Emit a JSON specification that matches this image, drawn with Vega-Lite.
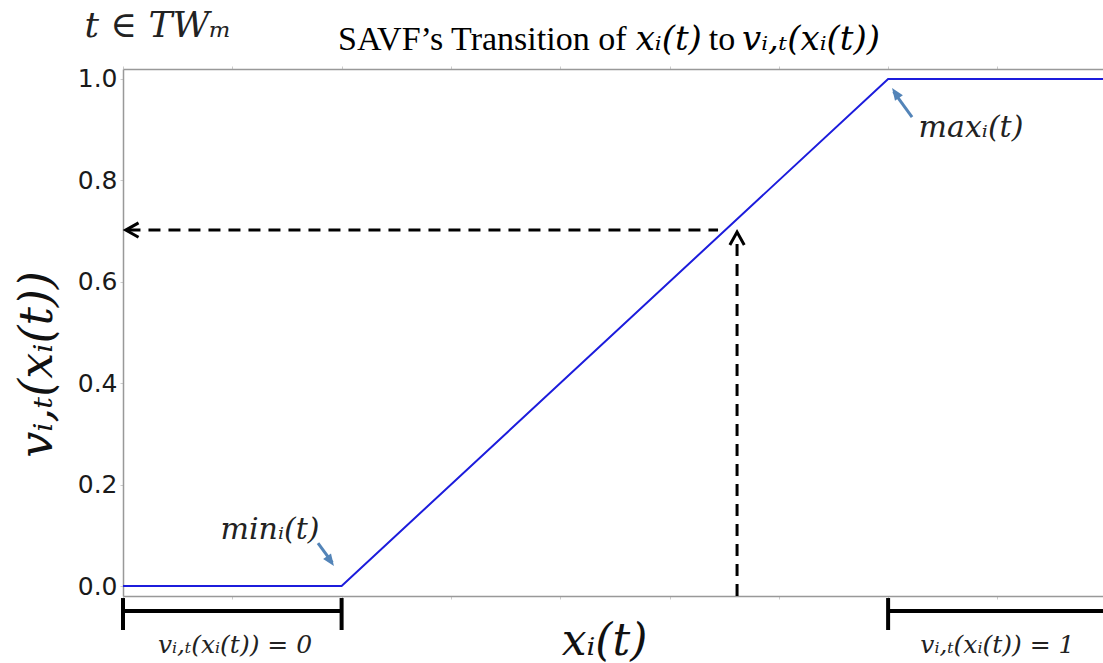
{
  "$schema": "https://vega.github.io/schema/vega-lite/v6.json",
  "width": 980,
  "height": 527,
  "autosize": "none",
  "padding": {"left": 123, "top": 69, "right": 0, "bottom": 67},
  "background": "white",
  "config": {"view": {"stroke": null}},
  "resolve": {"axis": {"x": "independent"}},
  "datasets": {
    "curve": [
      {"x": 0, "y": 0},
      {"x": 2, "y": 0},
      {"x": 7, "y": 1},
      {"x": 8.966, "y": 1}
    ],
    "hguide": [{"x": 0.05, "x2": 5.444, "y": 0.702}],
    "hhead": [{"x": 0.025, "y": 0.702}],
    "vguide": [{"x": 5.618, "y": -0.0197, "y2": 0.69}],
    "vhead": [{"x": 5.618, "y": 0.698}],
    "brackets": [
      {"x": 0, "x2": 2, "y": -0.0493, "y2": -0.0493},
      {"x": 7, "x2": 8.966, "y": -0.0493, "y2": -0.0493},
      {"x": 0, "x2": 0, "y": -0.0237, "y2": -0.0868},
      {"x": 2, "x2": 2, "y": -0.0237, "y2": -0.0868},
      {"x": 7, "x2": 7, "y": -0.0237, "y2": -0.0868}
    ],
    "pointers": [
      {"name": "min", "x": 1.784, "y": 0.0848, "x2": 1.915, "y2": 0.046},
      {"name": "max", "x": 7.219, "y": 0.925, "x2": 7.05, "y2": 0.975}
    ],
    "heads": [
      {"name": "min", "x": 1.93, "y": 0.0394},
      {"name": "max", "x": 7.036, "y": 0.982}
    ],
    "small": [
      {"x": 1.345, "y": 0.11, "text": "minᵢ(t)"},
      {"x": 7.758, "y": 0.903, "text": "maxᵢ(t)"}
    ],
    "bracketLabels": [
      {"x": 1.025, "y": -0.116, "text": "vᵢ,ₜ(xᵢ(t)) = 0"},
      {"x": 8.0, "y": -0.116, "text": "vᵢ,ₜ(xᵢ(t)) = 1"}
    ],
    "corner": [{"x": 0.32, "y": 1.1045, "text": "t ∈ TWₘ"}],
    "heading": [
      {"part": "roman", "x": 1.967, "y": 1.057, "text": "SAVF’s Transition of"},
      {"part": "math", "x": 4.69, "y": 1.057, "text": "xᵢ(t)"},
      {"part": "roman", "x": 5.36, "y": 1.057, "text": "to"},
      {"part": "math", "x": 5.663, "y": 1.057, "text": "vᵢ,ₜ(xᵢ(t))"}
    ]
  },
  "layer": [
    {
      "data": {"name": "curve"},
      "mark": {"type": "line", "color": "#1c1cdc", "strokeWidth": 2},
      "encoding": {
        "x": {
          "field": "x",
          "type": "quantitative",
          "scale": {"domain": [0, 8.966], "nice": false, "zero": false},
          "axis": {
            "orient": "bottom",
            "values": [0, 1, 2, 3, 4, 5, 6, 7, 8],
            "labels": false,
            "grid": false,
            "domainColor": "#999999",
            "domainWidth": 1.5,
            "tickColor": "#cccccc",
            "tickSize": 3,
            "title": "xᵢ(t)",
            "titleFont": "DejaVu Serif",
            "titleFontStyle": "italic",
            "titleFontWeight": "normal",
            "titleFontSize": 44,
            "titleColor": "#111111",
            "titleAlign": "center",
            "titleBaseline": "middle",
            "titleX": 481,
            "titleY": 45
          }
        },
        "y": {
          "field": "y",
          "type": "quantitative",
          "scale": {"domain": [-0.0197, 1.0197], "nice": false, "zero": false},
          "axis": {
            "orient": "left",
            "values": [0, 0.2, 0.4, 0.6, 0.8, 1.0],
            "format": ".1f",
            "grid": false,
            "labelFont": "DejaVu Sans",
            "labelFontSize": 25,
            "labelColor": "#1a1a1a",
            "labelPadding": 3,
            "domainColor": "#999999",
            "domainWidth": 1.5,
            "tickColor": "#cccccc",
            "tickSize": 3,
            "title": "vᵢ,ₜ(xᵢ(t))",
            "titleFont": "DejaVu Serif",
            "titleFontStyle": "italic",
            "titleFontWeight": "normal",
            "titleFontSize": 46,
            "titleColor": "#111111",
            "titleAngle": -90,
            "titleAlign": "center",
            "titleBaseline": "middle",
            "titleX": -86,
            "titleY": 295
          }
        }
      }
    },
    {
      "data": {"name": "curve"},
      "mark": {"type": "line", "strokeOpacity": 0},
      "encoding": {
        "x": {
          "field": "x",
          "type": "quantitative",
          "axis": {
            "orient": "top",
            "values": [0, 1, 2, 3, 4, 5, 6, 7, 8],
            "labels": false,
            "grid": false,
            "title": null,
            "domainColor": "#999999",
            "domainWidth": 1.5,
            "tickColor": "#cccccc",
            "tickSize": 3
          }
        },
        "y": {"field": "y", "type": "quantitative"}
      }
    },
    {
      "data": {"name": "hguide"},
      "mark": {"type": "rule", "color": "black", "strokeWidth": 3, "strokeDash": [12, 8]},
      "encoding": {
        "x": {"field": "x", "type": "quantitative", "axis": null},
        "x2": {"field": "x2"},
        "y": {"field": "y", "type": "quantitative"}
      }
    },
    {
      "data": {"name": "hhead"},
      "mark": {"type": "point", "shape": "M1.6,-0.9L0,0L1.6,0.9", "size": 256, "filled": false, "stroke": "black", "strokeWidth": 3, "opacity": 1},
      "encoding": {
        "x": {"field": "x", "type": "quantitative", "axis": null},
        "y": {"field": "y", "type": "quantitative"}
      }
    },
    {
      "data": {"name": "vguide"},
      "mark": {"type": "rule", "color": "black", "strokeWidth": 3, "strokeDash": [12, 8]},
      "encoding": {
        "x": {"field": "x", "type": "quantitative", "axis": null},
        "y": {"field": "y", "type": "quantitative"},
        "y2": {"field": "y2"}
      }
    },
    {
      "data": {"name": "vhead"},
      "mark": {"type": "point", "shape": "M-0.9,1.6L0,0L0.9,1.6", "size": 256, "filled": false, "stroke": "black", "strokeWidth": 3, "opacity": 1},
      "encoding": {
        "x": {"field": "x", "type": "quantitative", "axis": null},
        "y": {"field": "y", "type": "quantitative"}
      }
    },
    {
      "data": {"name": "brackets"},
      "mark": {"type": "rule", "color": "black", "strokeWidth": 4, "clip": false},
      "encoding": {
        "x": {"field": "x", "type": "quantitative", "axis": null},
        "x2": {"field": "x2"},
        "y": {"field": "y", "type": "quantitative"},
        "y2": {"field": "y2"}
      }
    },
    {
      "data": {"name": "pointers"},
      "mark": {"type": "rule", "color": "#5384b8", "strokeWidth": 3},
      "encoding": {
        "x": {"field": "x", "type": "quantitative", "axis": null},
        "x2": {"field": "x2"},
        "y": {"field": "y", "type": "quantitative"},
        "y2": {"field": "y2"}
      }
    },
    {
      "data": {"name": "heads"},
      "transform": [{"filter": "datum.name === 'min'"}],
      "mark": {"type": "point", "shape": "M0,0L-0.6,1.5L0.6,1.5Z", "size": 256, "filled": true, "color": "#5384b8", "opacity": 1, "angle": 145},
      "encoding": {
        "x": {"field": "x", "type": "quantitative", "axis": null},
        "y": {"field": "y", "type": "quantitative"}
      }
    },
    {
      "data": {"name": "heads"},
      "transform": [{"filter": "datum.name === 'max'"}],
      "mark": {"type": "point", "shape": "M0,0L-0.6,1.5L0.6,1.5Z", "size": 256, "filled": true, "color": "#5384b8", "opacity": 1, "angle": 325},
      "encoding": {
        "x": {"field": "x", "type": "quantitative", "axis": null},
        "y": {"field": "y", "type": "quantitative"}
      }
    },
    {
      "data": {"name": "small"},
      "mark": {"type": "text", "font": "DejaVu Serif", "fontStyle": "italic", "fontSize": 30, "color": "#222222", "align": "center", "baseline": "middle"},
      "encoding": {
        "x": {"field": "x", "type": "quantitative", "axis": null},
        "y": {"field": "y", "type": "quantitative"},
        "text": {"field": "text"}
      }
    },
    {
      "data": {"name": "bracketLabels"},
      "mark": {"type": "text", "font": "DejaVu Serif", "fontStyle": "italic", "fontSize": 25, "color": "#222222", "align": "center", "baseline": "middle"},
      "encoding": {
        "x": {"field": "x", "type": "quantitative", "axis": null},
        "y": {"field": "y", "type": "quantitative"},
        "text": {"field": "text"}
      }
    },
    {
      "data": {"name": "corner"},
      "mark": {"type": "text", "font": "DejaVu Serif", "fontStyle": "italic", "fontSize": 36, "color": "#222222", "align": "center", "baseline": "middle"},
      "encoding": {
        "x": {"field": "x", "type": "quantitative", "axis": null},
        "y": {"field": "y", "type": "quantitative"},
        "text": {"field": "text"}
      }
    },
    {
      "data": {"name": "heading"},
      "transform": [{"filter": "datum.part === 'roman'"}],
      "mark": {"type": "text", "font": "Liberation Serif", "fontSize": 34, "color": "black", "align": "left", "baseline": "alphabetic"},
      "encoding": {
        "x": {"field": "x", "type": "quantitative", "axis": null},
        "y": {"field": "y", "type": "quantitative"},
        "text": {"field": "text"}
      }
    },
    {
      "data": {"name": "heading"},
      "transform": [{"filter": "datum.part === 'math'"}],
      "mark": {"type": "text", "font": "DejaVu Serif", "fontStyle": "italic", "fontSize": 34, "color": "black", "align": "left", "baseline": "alphabetic"},
      "encoding": {
        "x": {"field": "x", "type": "quantitative", "axis": null},
        "y": {"field": "y", "type": "quantitative"},
        "text": {"field": "text"}
      }
    }
  ]
}
